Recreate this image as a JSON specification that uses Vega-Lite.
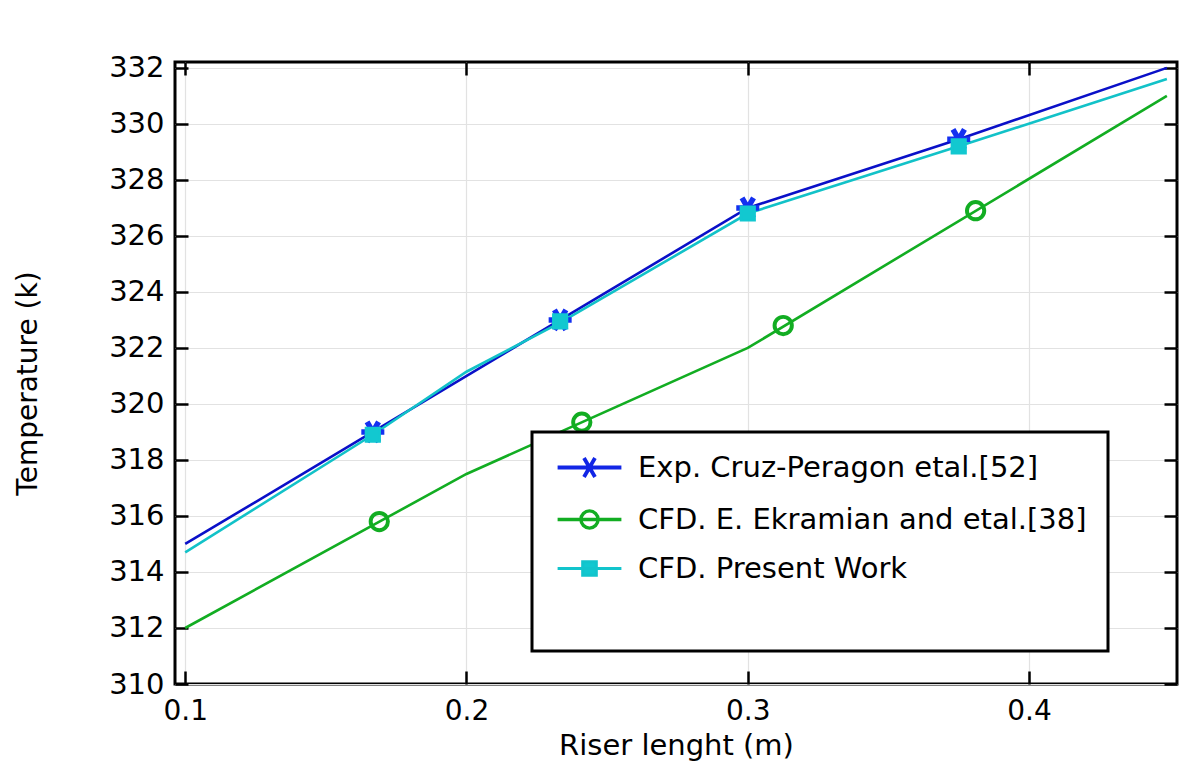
{
  "$schema": "https://vega.github.io/schema/vega-lite/v6.json",
  "width": 1002,
  "height": 622,
  "autosize": "none",
  "padding": {"left": 175, "top": 62, "right": 12, "bottom": 78},
  "background": "white",
  "config": {
    "view": {"stroke": "black", "strokeWidth": 3},
    "font": "DejaVu Sans",
    "legend": {"strokeWidth": 3},
    "axis": {"domain": false, "tickColor": "black", "tickWidth": 2.5, "gridColor": "#e2e2e2", "gridWidth": 1.2, "labelColor": "black", "titleColor": "black", "labelFont": "DejaVu Sans", "titleFont": "DejaVu Sans", "titleFontWeight": "normal"}
  },
  "datasets": {
    "lines": [
      {"series": "CFD. E. Ekramian and etal.[38]", "x": 0.1, "y": 312.0},
      {"series": "CFD. E. Ekramian and etal.[38]", "x": 0.2, "y": 317.5},
      {"series": "CFD. E. Ekramian and etal.[38]", "x": 0.3, "y": 322.0},
      {"series": "CFD. E. Ekramian and etal.[38]", "x": 0.449, "y": 331.0},
      {"series": "Exp. Cruz-Peragon etal.[52]", "x": 0.1, "y": 315.0},
      {"series": "Exp. Cruz-Peragon etal.[52]", "x": 0.1667, "y": 319.0},
      {"series": "Exp. Cruz-Peragon etal.[52]", "x": 0.2333, "y": 323.0},
      {"series": "Exp. Cruz-Peragon etal.[52]", "x": 0.3, "y": 327.0},
      {"series": "Exp. Cruz-Peragon etal.[52]", "x": 0.375, "y": 329.45},
      {"series": "Exp. Cruz-Peragon etal.[52]", "x": 0.449, "y": 332.0},
      {"series": "CFD. Present Work", "x": 0.1, "y": 314.7},
      {"series": "CFD. Present Work", "x": 0.1667, "y": 318.9},
      {"series": "CFD. Present Work", "x": 0.2, "y": 321.15},
      {"series": "CFD. Present Work", "x": 0.2333, "y": 322.9},
      {"series": "CFD. Present Work", "x": 0.3, "y": 326.8},
      {"series": "CFD. Present Work", "x": 0.375, "y": 329.2},
      {"series": "CFD. Present Work", "x": 0.449, "y": 331.6}
    ],
    "markers": [
      {"series": "Exp. Cruz-Peragon etal.[52]", "x": 0.1667, "y": 319.0},
      {"series": "Exp. Cruz-Peragon etal.[52]", "x": 0.2333, "y": 323.0},
      {"series": "Exp. Cruz-Peragon etal.[52]", "x": 0.3, "y": 327.0},
      {"series": "Exp. Cruz-Peragon etal.[52]", "x": 0.375, "y": 329.45},
      {"series": "CFD. E. Ekramian and etal.[38]", "x": 0.169, "y": 315.8},
      {"series": "CFD. E. Ekramian and etal.[38]", "x": 0.241, "y": 319.35},
      {"series": "CFD. E. Ekramian and etal.[38]", "x": 0.3126, "y": 322.8},
      {"series": "CFD. E. Ekramian and etal.[38]", "x": 0.381, "y": 326.9},
      {"series": "CFD. Present Work", "x": 0.1667, "y": 318.9},
      {"series": "CFD. Present Work", "x": 0.2333, "y": 322.95},
      {"series": "CFD. Present Work", "x": 0.3, "y": 326.8},
      {"series": "CFD. Present Work", "x": 0.375, "y": 329.2}
    ]
  },
  "resolve": {
    "scale": {"shape": "independent", "stroke": "independent", "fill": "independent", "strokeWidth": "independent"},
    "axis": {"x": "independent", "y": "independent"},
    "legend": {"shape": "independent", "stroke": "independent", "fill": "independent", "strokeWidth": "independent"}
  },
  "layer": [
    {
      "data": {"name": "lines"},
      "mark": {"type": "line", "strokeWidth": 2.6},
      "encoding": {
        "x": {"field": "x", "type": "quantitative", "scale": {"domain": [0.09637, 0.4526], "nice": false, "zero": false},
          "axis": {"orient": "bottom", "title": "Riser lenght (m)", "values": [0.1, 0.2, 0.3, 0.4], "format": ".1f", "tickSize": -13, "labelPadding": 48, "labelFontSize": 28, "labelBaseline": "alphabetic", "titleFontSize": 29, "titleBaseline": "alphabetic", "titleY": 70, "grid": true}},
        "y": {"field": "y", "type": "quantitative", "scale": {"domain": [310, 332.21], "nice": false, "zero": false},
          "axis": {"orient": "left", "title": "Temperature (k)", "values": [310, 312, 314, 316, 318, 320, 322, 324, 326, 328, 330, 332], "format": "d", "tickSize": -13, "labelPadding": 24, "labelFontSize": 29, "titleFontSize": 28, "titleAngle": -90, "titleX": -147, "titleY": 321, "titleAlign": "center", "titleBaseline": "middle", "grid": true}},
        "color": {"field": "series", "type": "nominal", "scale": {"domain": ["Exp. Cruz-Peragon etal.[52]", "CFD. E. Ekramian and etal.[38]", "CFD. Present Work"], "range": ["#0a10c8", "#12ad22", "#12c2c8"]}, "legend": null},
        "order": {"field": "x", "type": "quantitative"}
      }
    },
    {
      "data": {"name": "markers"},
      "mark": {"type": "point", "size": 530, "opacity": 1},
      "encoding": {
        "x": {"field": "x", "type": "quantitative", "scale": {"domain": [0.09637, 0.4526], "nice": false, "zero": false},
          "axis": {"orient": "top", "title": null, "labels": false, "grid": false, "values": [0.1, 0.2, 0.3, 0.4], "tickSize": -13}},
        "y": {"field": "y", "type": "quantitative", "scale": {"domain": [310, 332.21], "nice": false, "zero": false},
          "axis": {"orient": "right", "title": null, "labels": false, "grid": false, "values": [310, 312, 314, 316, 318, 320, 322, 324, 326, 328, 330, 332], "tickSize": -13}},
        "shape": {"field": "series", "type": "nominal", "scale": {"domain": ["Exp. Cruz-Peragon etal.[52]", "CFD. E. Ekramian and etal.[38]", "CFD. Present Work"], "range": ["M-1,0L1,0M-0.5,-0.866L0.5,0.866M-0.5,0.866L0.5,-0.866", "M-0.75,0A0.75,0.75 0 1,0 0.75,0A0.75,0.75 0 1,0 -0.75,0Z", "M-0.6,-0.6L0.6,-0.6L0.6,0.6L-0.6,0.6Z"]}, "legend": null},
        "stroke": {"field": "series", "type": "nominal", "scale": {"domain": ["Exp. Cruz-Peragon etal.[52]", "CFD. E. Ekramian and etal.[38]", "CFD. Present Work"], "range": ["#1430f0", "#12ad22", "#12c8d0"]}, "legend": null},
        "fill": {"field": "series", "type": "nominal", "scale": {"domain": ["Exp. Cruz-Peragon etal.[52]", "CFD. E. Ekramian and etal.[38]", "CFD. Present Work"], "range": ["transparent", "transparent", "#12c8d0"]}, "legend": null},
        "strokeWidth": {"field": "series", "type": "nominal", "scale": {"domain": ["Exp. Cruz-Peragon etal.[52]", "CFD. E. Ekramian and etal.[38]", "CFD. Present Work"], "range": [5.5, 2.4, 1]}, "legend": null}
      }
    },
    {
      "data": {"name": "markers"},
      "mark": {"type": "point", "size": 0, "opacity": 1},
      "encoding": {
        "x": {"field": "x", "type": "quantitative", "scale": {"domain": [0.09637, 0.4526], "nice": false, "zero": false}, "axis": null},
        "y": {"field": "y", "type": "quantitative", "scale": {"domain": [310, 332.21], "nice": false, "zero": false}, "axis": null},
        "shape": {"field": "series", "type": "nominal", "scale": {"domain": ["Exp. Cruz-Peragon etal.[52]", "CFD. E. Ekramian and etal.[38]", "CFD. Present Work"], "range": ["M-2.9,0L2.9,0M-0.5,-0.866L0.5,0.866M-0.5,0.866L0.5,-0.866", "M-2.9,0L2.9,0M-0.78,0A0.78,0.78 0 1,0 0.78,0A0.78,0.78 0 1,0 -0.78,0Z", "M-2.9,0L2.9,0M-0.62,-0.62L0.62,-0.62L0.62,0.62L-0.62,0.62Z"]},
          "legend": {"orient": "none", "legendX": 357, "legendY": 370, "title": " ", "titleOrient": "bottom", "titleFontSize": 26, "titlePadding": 20, "strokeColor": "black", "fillColor": "white", "padding": 21, "rowPadding": 19, "labelFontSize": 29, "labelFont": "DejaVu Sans", "labelColor": "black", "labelLimit": 700, "symbolSize": 484, "symbolOffset": 22, "labelOffset": 34}},
        "stroke": {"field": "series", "type": "nominal", "scale": {"domain": ["Exp. Cruz-Peragon etal.[52]", "CFD. E. Ekramian and etal.[38]", "CFD. Present Work"], "range": ["#1226e6", "#12ad22", "#12c4cc"]}},
        "fill": {"field": "series", "type": "nominal", "scale": {"domain": ["Exp. Cruz-Peragon etal.[52]", "CFD. E. Ekramian and etal.[38]", "CFD. Present Work"], "range": ["transparent", "transparent", "#12c8d0"]}},
        "strokeWidth": {"field": "series", "type": "nominal", "scale": {"domain": ["Exp. Cruz-Peragon etal.[52]", "CFD. E. Ekramian and etal.[38]", "CFD. Present Work"], "range": [3.8, 3, 3.2]}}
      }
    }
  ]
}
